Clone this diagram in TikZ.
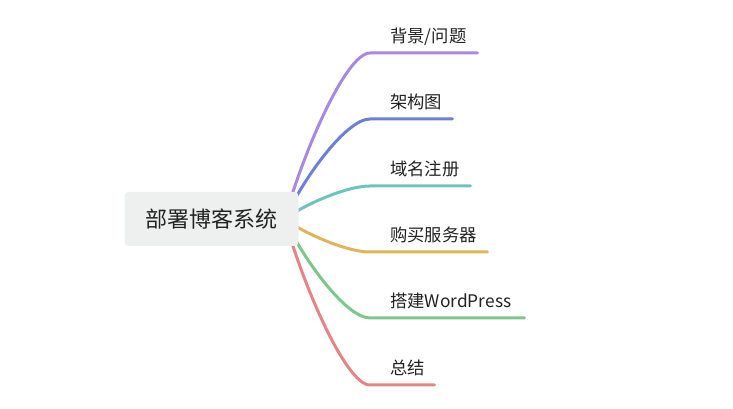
\documentclass[tikz,border=0pt]{standalone}
\usepackage{fontspec}
\newfontfamily\cjk{Noto Sans CJK SC}
\usetikzlibrary{backgrounds}

\definecolor{rootgray}{RGB}{238,240,240}
\definecolor{textdark}{RGB}{34,34,34}
\definecolor{cpurple}{RGB}{166,137,226}
\definecolor{cblue}{RGB}{108,128,216}
\definecolor{cteal}{RGB}{109,196,190}
\definecolor{cyellow}{RGB}{222,181,88}
\definecolor{cgreen}{RGB}{125,199,137}
\definecolor{cred}{RGB}{229,132,133}

\begin{document}
\begin{tikzpicture}[x=0.75pt,y=-0.75pt]
        \tikzstyle{root} = [fill=rootgray,rounded corners=3pt,minimum width=130.5pt,minimum height=40.5pt,inner sep=0pt,font=\cjk\fontsize{16.5}{20}\selectfont,text=textdark]
        \tikzstyle{topic} = [anchor=base west,inner sep=0pt,font=\cjk\fontsize{13}{16}\selectfont,text=textdark]
        \tikzstyle{branch} = [line width=2.25pt,line cap=round]

        \useasboundingbox (0,0) rectangle (733,409);

        \node[root] (R) at (211.5,219){部署博客系统};
        \coordinate (O) at (285,219);

        \node[topic] (T1) at (390,43){背景/问题};
        \node[topic] (T2) at (390,109){架构图};
        \node[topic] (T3) at (390,176){域名注册};
        \node[topic] (T4) at (390,242){购买服务器};
        \node[topic] (T5) at (390,308){搭建WordPress};
        \node[topic] (T6) at (390,375){总结};

        \coordinate (A1) at (370,53);  \coordinate (B1) at (477.5,53);
        \coordinate (A2) at (370,119); \coordinate (B2) at (452.5,119);
        \coordinate (A3) at (370,186); \coordinate (B3) at (470.5,186);
        \coordinate (A4) at (370,252); \coordinate (B4) at (487.5,252);
        \coordinate (A5) at (370,318); \coordinate (B5) at (524.5,318);
        \coordinate (A6) at (370,385); \coordinate (B6) at (434.5,385);

        \begin{pgfonlayer}{background}
        \draw[branch, cpurple] (O) .. controls +(15,-58) and +(-25,0) .. (A1) -- (B1);
        \draw[branch, cblue] (O) .. controls +(15,-35) and +(-25,0) .. (A2) -- (B2);
        \draw[branch, cteal] (O) .. controls +(15,-12) and +(-25,0) .. (A3) -- (B3);
        \draw[branch, cyellow] (O) .. controls +(15,12) and +(-25,0) .. (A4) -- (B4);
        \draw[branch, cgreen] (O) .. controls +(15,35) and +(-25,0) .. (A5) -- (B5);
        \draw[branch, cred] (O) .. controls +(15,58) and +(-25,0) .. (A6) -- (B6);
        \end{pgfonlayer}

\end{tikzpicture}
\end{document}
